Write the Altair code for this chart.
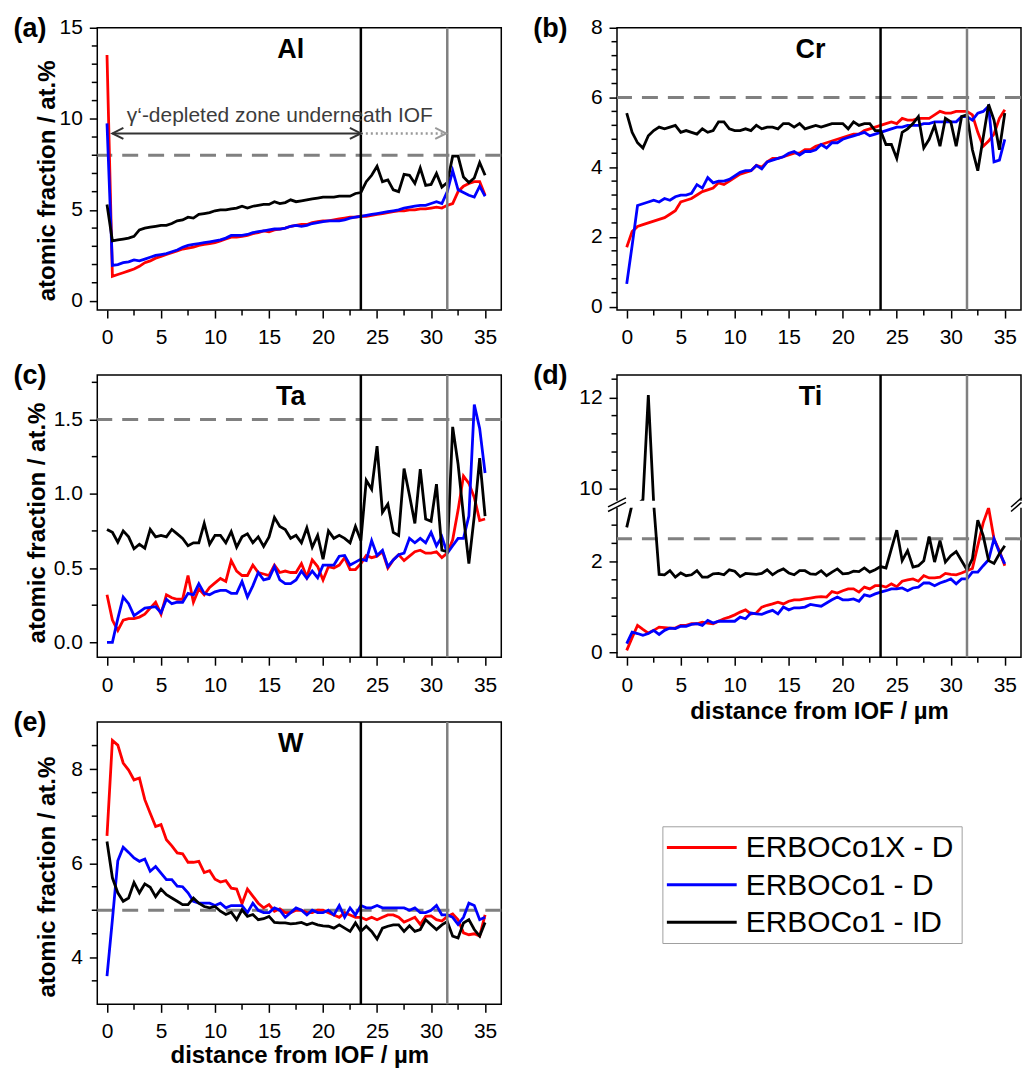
import altair as alt
import pandas as pd

FONT = "Liberation Sans"
W, H = 405, 283

DIST = [0, 0.5, 1, 1.5, 2, 2.5, 3, 3.5, 4, 4.5, 5, 5.5, 6, 6.5, 7, 7.5, 8, 8.5, 9, 9.5,
        10, 10.5, 11, 11.5, 12, 12.5, 13, 13.5, 14, 14.5, 15, 15.5, 16, 16.5, 17, 17.5, 18, 18.5, 19, 19.5,
        20, 20.5, 21, 21.5, 22, 22.5, 23, 23.5, 24, 24.5, 25, 25.5, 26, 26.5, 27, 27.5, 28, 28.5, 29, 29.5,
        30, 30.5, 31, 31.5, 32, 32.5, 33, 33.5, 34, 34.5, 35]

SERIES = ["ERBOCo1X - D", "ERBOCo1 - D", "ERBOCo1 - ID"]
COLORS = ["#ff0000", "#0000ff", "#000000"]

XDOM = [-0.9, 36.5]
XMAJOR = [0, 5, 10, 15, 20, 25, 30, 35]
XMINOR = [2.5, 7.5, 12.5, 17.5, 22.5, 27.5, 32.5]
XTITLE = "distance from IOF / µm"
YTITLE = "atomic fraction / at.%"
VLINE_BLACK = 23.5
VLINE_GRAY = 31.5

# ---------------- Al ----------------
AL_RED = [13.5, 1.35, 1.45, 1.55, 1.65, 1.75, 1.9, 2.1, 2.2, 2.35,
          2.45, 2.55, 2.65, 2.75, 2.85, 2.9, 2.95, 3.05, 3.1, 3.15,
          3.2, 3.3, 3.4, 3.5, 3.5, 3.55, 3.6, 3.7, 3.75, 3.85,
          3.8, 3.9, 3.95, 4.0, 4.1, 4.15, 4.2, 4.2, 4.3, 4.35,
          4.4, 4.4, 4.45, 4.5, 4.55, 4.6, 4.6, 4.65, 4.65, 4.7,
          4.75, 4.8, 4.85, 4.9, 4.95, 4.95, 5.0, 5.0, 5.05, 5.05,
          5.1, 5.15, 5.1, 5.25, 5.35, 6.0, 6.3, 6.45, 6.55, 6.55,
          5.8]
AL_BLUE = [9.75, 1.95, 2.0, 2.1, 2.15, 2.25, 2.2, 2.3, 2.4, 2.5,
           2.55, 2.6, 2.7, 2.8, 2.95, 3.05, 3.1, 3.15, 3.2, 3.25,
           3.3, 3.35, 3.45, 3.6, 3.6, 3.6, 3.65, 3.75, 3.8, 3.85,
           3.9, 3.95, 3.95, 4.0, 4.1, 4.15, 4.1, 4.15, 4.25, 4.3,
           4.35, 4.4, 4.4, 4.4, 4.45, 4.55, 4.6, 4.65, 4.7, 4.75,
           4.8, 4.85, 4.9, 4.95, 5.0, 5.1, 5.15, 5.2, 5.25, 5.25,
           5.35, 5.45, 5.35, 6.0, 7.15, 6.1, 5.95, 5.8, 5.7, 6.3,
           5.75]
AL_BLACK = [5.3, 3.3, 3.35, 3.4, 3.45, 3.55, 3.9, 4.0, 4.05, 4.1,
            4.15, 4.15, 4.25, 4.4, 4.45, 4.6, 4.55, 4.75, 4.8, 4.85,
            4.95, 5.0, 5.0, 5.05, 5.1, 5.2, 5.1, 5.2, 5.25, 5.3,
            5.3, 5.45, 5.35, 5.4, 5.55, 5.45, 5.5, 5.55, 5.6, 5.65,
            5.7, 5.7, 5.7, 5.75, 5.75, 5.75, 5.9, 5.95, 6.55, 6.9,
            7.4, 6.55, 6.65, 6.1, 6.0, 6.95, 6.9, 6.45, 7.3, 6.35,
            6.4, 7.0, 6.25, 6.5, 7.95, 7.95, 6.8, 6.5, 6.75, 7.6,
            6.9]

# ---------------- Cr ----------------
CR_RED = [1.7, 2.15, 2.3, 2.35, 2.4, 2.45, 2.5, 2.55, 2.65, 2.75,
          3.0, 3.05, 3.1, 3.2, 3.3, 3.35, 3.4, 3.55, 3.5, 3.6,
          3.7, 3.8, 3.85, 3.9, 4.05, 4.0, 4.15, 4.25, 4.25, 4.3,
          4.35, 4.4, 4.4, 4.5, 4.5, 4.6, 4.65, 4.7, 4.75, 4.8,
          4.85, 4.9, 4.95, 4.95, 5.05, 5.1, 5.15, 5.2, 5.25, 5.3,
          5.25, 5.4, 5.35, 5.35, 5.4, 5.4, 5.4, 5.5, 5.6, 5.55,
          5.55, 5.6, 5.6, 5.6, 5.5, 5.0, 4.6, 4.75, 4.95, 5.4,
          5.65]
CR_BLUE = [0.65, 1.75, 2.9, 2.95, 3.0, 3.05, 3.0, 3.1, 3.05, 3.15,
           3.2, 3.2, 3.25, 3.5, 3.4, 3.7, 3.55, 3.6, 3.6, 3.65,
           3.75, 3.85, 3.9, 3.9, 4.05, 3.95, 4.15, 4.2, 4.25, 4.3,
           4.4, 4.45, 4.35, 4.45, 4.45, 4.5, 4.65, 4.55, 4.7, 4.7,
           4.8, 4.85, 4.9, 4.95, 5.0, 4.9, 4.95, 5.0, 5.05, 5.1,
           5.15, 5.15, 5.2, 5.2, 5.2, 5.25, 5.25, 5.3, 5.3, 5.3,
           5.3, 5.3, 5.45, 5.45, 5.35, 5.55, 5.6, 5.75, 4.15, 4.2,
           4.8]
CR_BLACK = [5.55, 5.0, 4.7, 4.55, 4.9, 5.05, 5.15, 5.1, 5.15, 5.2,
            5.0, 5.05, 5.0, 4.95, 5.1, 5.0, 5.05, 5.3, 5.3, 5.1,
            5.05, 5.05, 5.1, 5.05, 5.2, 5.1, 5.15, 5.15, 5.1, 5.25,
            5.25, 5.15, 5.25, 5.1, 5.15, 5.2, 5.15, 5.2, 5.25, 5.25,
            5.25, 5.1, 5.3, 5.2, 5.25, 5.25, 5.05, 5.05, 4.65, 4.65,
            4.25, 5.0, 5.1, 5.25, 5.45, 4.55, 4.8, 5.2, 4.6, 5.4,
            5.3, 4.6, 5.45, 5.5, 4.5, 3.9, 4.85, 5.8, 5.35, 4.5,
            5.55]

# ---------------- Ta ----------------
TA_RED = [0.32, 0.15, 0.08, 0.15, 0.16, 0.16, 0.17, 0.19, 0.23, 0.27,
          0.19, 0.32, 0.3, 0.29, 0.29, 0.45, 0.27, 0.36, 0.32, 0.37,
          0.40, 0.43, 0.41, 0.55, 0.48, 0.45, 0.45, 0.52, 0.47, 0.46,
          0.45, 0.52, 0.47, 0.48, 0.47, 0.47, 0.53, 0.44, 0.555, 0.51,
          0.42, 0.51, 0.50, 0.52, 0.57, 0.49, 0.49, 0.53, 0.585, 0.57,
          0.58, 0.61, 0.50, 0.555, 0.59, 0.55, 0.58, 0.61, 0.62, 0.60,
          0.60, 0.61, 0.57, 0.60, 0.69, 0.89, 1.12, 1.07, 0.975, 0.82,
          0.83]
TA_BLUE = [0.0, 0.0, 0.16, 0.305, 0.26, 0.18, 0.205, 0.23, 0.235, 0.24,
           0.20, 0.29, 0.26, 0.27, 0.27, 0.33, 0.32, 0.395, 0.33, 0.32,
           0.34, 0.35, 0.35, 0.33, 0.33, 0.41, 0.305, 0.38, 0.47, 0.42,
           0.43, 0.51, 0.42, 0.395, 0.395, 0.42, 0.48, 0.43, 0.48, 0.435,
           0.52, 0.52, 0.52, 0.58, 0.585, 0.52, 0.54, 0.56, 0.55, 0.685,
           0.585, 0.62, 0.51, 0.555, 0.59, 0.60, 0.70, 0.67, 0.70, 0.67,
           0.74, 0.65, 0.71, 0.60, 0.65, 0.70, 0.70, 0.85, 1.60, 1.44,
           1.14]
TA_BLACK = [0.76, 0.74, 0.674, 0.75, 0.71, 0.63, 0.66, 0.634, 0.76, 0.71,
            0.72, 0.71, 0.76, 0.73, 0.70, 0.65, 0.67, 0.67, 0.80, 0.66,
            0.72, 0.72, 0.67, 0.745, 0.64, 0.71, 0.73, 0.67, 0.71, 0.645,
            0.71, 0.84, 0.78, 0.76, 0.70, 0.72, 0.67, 0.77, 0.64, 0.72,
            0.56, 0.75, 0.70, 0.72, 0.70, 0.67, 0.78, 0.685, 1.09, 1.03,
            1.32, 0.875, 0.93, 0.74, 0.72, 1.17, 0.99, 0.80, 1.165, 0.83,
            0.815, 1.065, 0.62, 0.61, 1.45, 1.2, 0.85, 0.53, 0.85, 1.24,
            0.85]

# ---------------- Ti (broken axis) ----------------
TI_RED = [0.05, 0.33, 0.6, 0.51, 0.43, 0.49, 0.56, 0.55, 0.54, 0.54,
          0.6, 0.6, 0.635, 0.635, 0.67, 0.65, 0.635, 0.69, 0.745, 0.78,
          0.83, 0.89, 0.94, 0.85, 0.87, 1.0, 1.04, 1.07, 1.11, 1.07,
          1.13, 1.16, 1.16, 1.18, 1.2, 1.22, 1.23, 1.22, 1.34, 1.31,
          1.36, 1.40, 1.40, 1.33, 1.44, 1.40, 1.47, 1.47, 1.44, 1.51,
          1.45, 1.57, 1.60, 1.62, 1.57, 1.69, 1.64, 1.64, 1.66, 1.74,
          1.72, 1.71, 1.75, 1.8, 1.85, 2.35, 2.85, 3.18, 2.5, 2.24,
          1.91]
TI_BLUE = [0.2, 0.45, 0.42, 0.38, 0.42, 0.49, 0.40, 0.49, 0.54, 0.53,
           0.58, 0.58, 0.62, 0.635, 0.60, 0.71, 0.65, 0.69, 0.69, 0.69,
           0.69, 0.78, 0.745, 0.87, 0.85, 0.84, 0.89, 0.93, 0.85, 1.0,
           0.94, 0.985, 0.985, 1.0, 1.06, 1.04, 1.02, 1.09, 1.16, 1.22,
           1.16, 1.16, 1.18, 1.13, 1.27, 1.24, 1.29, 1.33, 1.36, 1.40,
           1.40, 1.42, 1.36, 1.42, 1.44, 1.53, 1.53, 1.47, 1.53, 1.57,
           1.62, 1.51, 1.62, 1.62, 1.77, 1.77, 1.91, 2.04, 2.50, 2.2,
           1.95]
TI_BLACK = [2.75, 6.0, 8.0, 9.75, 12.05, 9.6, 1.72, 1.71, 1.80, 1.66,
            1.75, 1.69, 1.71, 1.80, 1.66, 1.66, 1.73, 1.74, 1.71, 1.82,
            1.79, 1.67, 1.74, 1.73, 1.72, 1.74, 1.82, 1.71, 1.79, 1.84,
            1.75, 1.71, 1.80, 1.80, 1.73, 1.72, 1.80, 1.69, 1.77, 1.84,
            1.73, 1.74, 1.79, 1.78, 1.86, 1.77, 1.82, 1.89, 1.86, 2.28,
            2.69, 2.02, 2.24, 1.88, 1.91, 2.02, 2.55, 1.99, 2.46, 1.99,
            2.13, 2.22, 2.02, 1.82, 2.06, 2.91, 2.57, 2.02, 1.96, 2.17,
            2.35]

# ---------------- W ----------------
W_RED = [6.58, 8.61, 8.51, 8.13, 7.98, 7.77, 7.81, 7.35, 7.06, 6.78,
         6.82, 6.50, 6.37, 6.22, 6.20, 6.02, 6.02, 6.04, 5.80, 5.84,
         5.66, 5.60, 5.63, 5.47, 5.45, 5.14, 5.45, 5.30, 5.15, 5.05,
         5.12, 4.98, 5.03, 4.95, 4.95, 5.0, 5.0, 4.95, 4.95, 5.0,
         5.0, 4.95, 4.9, 4.85, 4.95, 4.9, 4.85, 4.85, 4.8, 4.85,
         4.8, 4.85, 4.9, 4.9, 4.85, 4.75, 4.8, 4.85, 4.7, 4.87,
         4.88, 4.8, 4.77, 4.87, 4.92, 4.8, 4.52, 4.48, 4.5, 4.45,
         4.9]
W_BLUE = [3.6, 4.8, 6.05, 6.34, 6.23, 6.11, 6.04, 6.09, 5.83, 5.93,
          5.79, 5.65, 5.65, 5.51, 5.5, 5.37, 5.19, 5.15, 5.15, 5.15,
          5.10, 5.15, 5.05, 5.1, 5.1, 5.1, 4.95, 5.15, 5.0, 4.95,
          4.95, 5.05, 5.0, 4.85, 4.95, 5.05, 5.0, 4.9, 5.0, 4.95,
          4.95, 5.0, 4.9, 5.1, 4.85, 5.05, 4.9, 5.1, 5.05, 5.05,
          5.1, 5.05, 5.05, 5.05, 5.05, 5.05, 5.0, 5.05, 4.95, 4.95,
          5.0, 5.1, 4.9, 4.9, 4.85, 4.7, 4.85, 5.15, 5.1, 4.8,
          4.85]
W_BLACK = [6.46, 5.69, 5.37, 5.19, 5.26, 5.59, 5.37, 5.56, 5.49, 5.29,
           5.45, 5.33, 5.26, 5.19, 5.12, 5.12, 5.26, 5.15, 5.08, 5.05,
           5.08, 4.98, 4.91, 4.96, 4.80, 5.01, 4.87, 4.91, 4.80, 4.82,
           4.87, 4.74, 4.73, 4.73, 4.71, 4.72, 4.74, 4.69, 4.73, 4.69,
           4.67, 4.66, 4.62, 4.69, 4.62, 4.55, 4.73, 4.55, 4.66, 4.55,
           4.39, 4.62, 4.66, 4.69, 4.69, 4.55, 4.67, 4.55, 4.59, 4.80,
           4.69, 4.59, 4.69, 4.76, 4.45, 4.41, 4.73, 4.80, 4.59, 4.45,
           4.74]

# Ti broken-axis mapping (lower part up to 3.183, upper part from 9.73)
TI_LOW_TOP = 3.183
TI_HIGH_BOTTOM = 9.73
TI_OFFSET = 6.394
TI_GAP_MID = 3.26
TI_MAJOR = [0, 2, 10, 12]
TI_MINOR = [0.4, 0.8, 1.2, 1.6, 2.4, 2.8, 10.4, 10.8, 11.2, 11.6, 12.4]
TI_SLASH_LOW = [3.10, 3.20]
TI_SLASH_HIGH = [3.30, 3.40]

# annotation in (a)
ANNOT_TEXT = "γ‘-depleted zone underneath IOF"
ANNOT_X, ANNOT_Y = 16.0, 9.8
ARROW_Y = 9.2
ARROW_SOLID = [0.5, 23.5]
ARROW_DOTTED = [23.5, 31.4]
RIGHT_CHEVRON = "M-1,-0.5L0,0L-1,0.5"
LEFT_CHEVRON = "M1,-0.5L0,0L1,0.5"

# legend box (drawn as its own small panel)
LEG_BOX = [46, 346, 105, 222]
LEG_SYMBOL = [50, 120]
LEG_LABEL_X = 129
LEG_ROWS = [125.7, 200.7]

# page anchor (top-left extent of the whole figure, relative to panel (a))
ANCHOR = [-92, -30]

COLOR_SCALE = alt.Scale(domain=SERIES, range=COLORS)


def ti_t(v):
    if v <= TI_LOW_TOP:
        return v
    if v >= TI_HIGH_BOTTOM:
        return v - TI_OFFSET
    return TI_GAP_MID


TI_EXPR = (f"datum.v <= {TI_LOW_TOP} ? datum.v : (datum.v >= {TI_HIGH_BOTTOM} ? "
           f"datum.v - {TI_OFFSET} : {TI_GAP_MID})")


def build_panel(letter, element, vals, ydom, ymajor, yminor, ref_y,
                ytitle_pos=None, xtitle_y=None, xlabel_pad=9, broken=False, annotate=False,
                anchor=False):
    red, blue, black = vals
    n = len(DIST)
    df = pd.DataFrame({
        "x": DIST * 3,
        "v": red + blue + black,
        "series": [SERIES[0]] * n + [SERIES[1]] * n + [SERIES[2]] * n,
    })
    xs = alt.Scale(domain=XDOM, nice=False, zero=False)
    ys = alt.Scale(domain=ydom, nice=False, zero=False)

    xkw = dict(values=XMAJOR, tickSize=8, tickWidth=1.5, tickColor="black", domain=False,
               grid=False, labelFont=FONT, labelFontSize=21, labelColor="black",
               labelPadding=xlabel_pad, labelFlush=False)
    if xtitle_y is not None:
        xkw.update(title=XTITLE, titleFont=FONT, titleFontSize=24, titleFontWeight="bold",
                   titleColor="black", titleY=xtitle_y, titleBaseline="alphabetic")
    else:
        xkw.update(title=None)

    ykw = dict(values=ymajor, tickSize=8, tickWidth=1.5, tickColor="black", domain=False,
               grid=False, labelFont=FONT, labelFontSize=21, labelColor="black",
               labelPadding=7, labelFlush=False)
    if broken:
        ykw.update(labelExpr=f"datum.value > {TI_LOW_TOP} ? format(datum.value + {TI_OFFSET}, '.0f') : format(datum.value, '.0f')")
    if ytitle_pos is not None:
        ykw.update(title=YTITLE, titleFont=FONT, titleFontSize=24, titleFontWeight="bold",
                   titleColor="black", titleX=ytitle_pos[0], titleY=ytitle_pos[1],
                   titleBaseline="alphabetic", titleAngle=270)
    else:
        ykw.update(title=None)
    XA = alt.Axis(**xkw)
    YA = alt.Axis(**ykw)

    def X(field):
        return alt.X(field, scale=xs, axis=XA)

    def Y(field):
        return alt.Y(field, scale=ys, axis=YA)

    base = alt.Chart(df)
    if broken:
        base = base.transform_calculate(t=TI_EXPR)
        yf = "t:Q"
    else:
        yf = "v:Q"

    lines = base.mark_line(strokeWidth=2.8, clip=True).encode(
        x=X("x:Q"), y=Y(yf),
        color=alt.Color("series:N", scale=COLOR_SCALE, legend=None),
    )

    dashed = alt.Chart(pd.DataFrame({"y": [ref_y]})).mark_rule(
        color="#808080", strokeWidth=3, strokeDash=[16, 10]
    ).encode(y=Y("y:Q"))

    vblack = alt.Chart(pd.DataFrame({"x": [VLINE_BLACK]})).mark_rule(
        color="#000000", strokeWidth=2.5
    ).encode(x=X("x:Q"))
    vgray = alt.Chart(pd.DataFrame({"x": [VLINE_GRAY]})).mark_rule(
        color="#808080", strokeWidth=2.5
    ).encode(x=X("x:Q"))

    xmin = alt.Chart(pd.DataFrame({"x": XMINOR})).mark_rule(color="black", strokeWidth=1.5).encode(
        x=X("x:Q"), y=alt.value(H), y2=alt.value(H + 5.5))
    ymin = alt.Chart(pd.DataFrame({"y": yminor})).mark_rule(color="black", strokeWidth=1.5).encode(
        y=Y("y:Q"), x=alt.value(0), x2=alt.value(-5.5))

    letter_t = alt.Chart(pd.DataFrame({"t": [letter]})).mark_text(
        font=FONT, fontSize=27, fontWeight="bold", align="left", baseline="middle", color="black"
    ).encode(text="t:N", x=alt.value(-84), y=alt.value(1))
    elem_t = alt.Chart(pd.DataFrame({"t": [element]})).mark_text(
        font=FONT, fontSize=27, fontWeight="bold", align="center", baseline="alphabetic", color="black"
    ).encode(text="t:N", x=alt.value(194), y=alt.value(30))

    layers = [dashed, lines]
    if broken:
        band = alt.Chart(pd.DataFrame({"y1": [TI_LOW_TOP], "y2": [TI_HIGH_BOTTOM - TI_OFFSET]})).mark_rect(
            color="white"
        ).encode(y=Y("y1:Q"), y2="y2:Q", x=alt.value(-2), x2=alt.value(W + 1))
        layers.append(band)
    layers += [vblack, vgray, xmin, ymin, letter_t, elem_t]
    if broken:
        sl = pd.DataFrame({"y1": TI_SLASH_LOW, "y2": TI_SLASH_HIGH})
        for x1, x2 in ((-9, 9), (W - 10, W + 0.5)):
            layers.append(alt.Chart(sl).mark_rule(color="black", strokeWidth=1.5).encode(
                y=Y("y1:Q"), y2="y2:Q", x=alt.value(x1), x2=alt.value(x2)))
    if annotate:
        txt = alt.Chart(pd.DataFrame({"x": [ANNOT_X], "y": [ANNOT_Y], "t": [ANNOT_TEXT]})).mark_text(
            font=FONT, fontSize=21, color="#3c3c3c", align="center", baseline="alphabetic"
        ).encode(x=X("x:Q"), y=Y("y:Q"), text="t:N")
        solid = alt.Chart(pd.DataFrame({"x1": [ARROW_SOLID[0]], "x2": [ARROW_SOLID[1]], "y": [ARROW_Y]})).mark_rule(
            color="#333333", strokeWidth=2
        ).encode(x=X("x1:Q"), x2="x2:Q", y=Y("y:Q"))
        dotted = alt.Chart(pd.DataFrame({"x1": [ARROW_DOTTED[0]], "x2": [ARROW_DOTTED[1]], "y": [ARROW_Y]})).mark_rule(
            color="#999999", strokeWidth=2.5, strokeDash=[2, 3]
        ).encode(x=X("x1:Q"), x2="x2:Q", y=Y("y:Q"))
        head_l = alt.Chart(pd.DataFrame({"x": [ARROW_SOLID[0]], "y": [ARROW_Y]})).mark_point(
            shape=LEFT_CHEVRON, size=484, filled=False, strokeWidth=2, color="#333333", opacity=1
        ).encode(x=X("x:Q"), y=Y("y:Q"))
        head_r = alt.Chart(pd.DataFrame({"x": [ARROW_SOLID[1]], "y": [ARROW_Y]})).mark_point(
            shape=RIGHT_CHEVRON, size=484, filled=False, strokeWidth=2, color="#333333", opacity=1
        ).encode(x=X("x:Q"), y=Y("y:Q"))
        head_g = alt.Chart(pd.DataFrame({"x": [ARROW_DOTTED[1]], "y": [ARROW_Y]})).mark_point(
            shape=RIGHT_CHEVRON, size=484, filled=False, strokeWidth=2, color="#999999", opacity=1
        ).encode(x=X("x:Q"), y=Y("y:Q"))
        layers += [txt, solid, dotted, head_l, head_r, head_g]
    if anchor:
        layers.append(alt.Chart(pd.DataFrame({"a": [0]})).mark_rule(color="white", strokeWidth=1).encode(
            x=alt.value(ANCHOR[0]), x2=alt.value(ANCHOR[0]),
            y=alt.value(ANCHOR[1]), y2=alt.value(ANCHOR[1] + 4)))
    return alt.layer(*layers).properties(width=W, height=H)


def build_legend():
    ldf = pd.DataFrame({"series": SERIES})
    ly = alt.Scale(type="point", domain=SERIES, range=LEG_ROWS, padding=0)
    box = alt.Chart(pd.DataFrame({"a": [0]})).mark_rect(
        fill="white", stroke="#a0a0a0", strokeWidth=1
    ).encode(x=alt.value(LEG_BOX[0]), x2=alt.value(LEG_BOX[1]),
             y=alt.value(LEG_BOX[2]), y2=alt.value(LEG_BOX[3]))
    sym = alt.Chart(ldf).mark_rule(strokeWidth=3).encode(
        x=alt.value(LEG_SYMBOL[0]), x2=alt.value(LEG_SYMBOL[1]),
        y=alt.Y("series:N", scale=ly, axis=None),
        color=alt.Color("series:N", scale=COLOR_SCALE, legend=None))
    lab = alt.Chart(ldf).mark_text(font=FONT, fontSize=30, align="left", baseline="middle",
                                   color="black", dy=1).encode(
        x=alt.value(LEG_LABEL_X), y=alt.Y("series:N", scale=ly, axis=None), text="series:N")
    return alt.layer(box, sym, lab).properties(
        width=W, height=H, view=alt.ViewBackground(strokeOpacity=0))


pa = build_panel("(a)", "Al", (AL_RED, AL_BLUE, AL_BLACK), [-0.5, 15], [0, 5, 10, 15],
                 [1, 2, 3, 4, 6, 7, 8, 9, 11, 12, 13, 14], 8,
                 ytitle_pos=(-42.5, 153), annotate=True, anchor=True)
pb = build_panel("(b)", "Cr", (CR_RED, CR_BLUE, CR_BLACK), [-0.1, 8], [0, 2, 4, 6, 8],
                 [0.4, 0.8, 1.2, 1.6, 2.4, 2.8, 3.2, 3.6, 4.4, 4.8, 5.2, 5.6, 6.4, 6.8, 7.2, 7.6], 6)
pc = build_panel("(c)", "Ta", (TA_RED, TA_BLUE, TA_BLACK), [-0.1, 1.8], [0.0, 0.5, 1.0, 1.5],
                 [0.25, 0.75, 1.25, 1.75], 1.5, ytitle_pos=(-52.5, 148))
pd_ = build_panel("(d)", "Ti", (TI_RED, TI_BLUE, TI_BLACK), [-0.1, 6.1],
                  [ti_t(v) for v in TI_MAJOR], [ti_t(v) for v in TI_MINOR], 2.5,
                  xtitle_y=61, broken=True)
pe = build_panel("(e)", "W", (W_RED, W_BLUE, W_BLACK), [3, 9], [4, 6, 8],
                 [3.5, 4.5, 5, 5.5, 6.5, 7, 7.5, 8.5], 5, ytitle_pos=(-43, 155),
                 xtitle_y=58, xlabel_pad=8)
pf = build_legend()

# page origin of panel (a) = 8 + padding - (anchor - 0.5)
PAD_LEFT = 96 - 8 + ANCHOR[0] - 0.5
PAD_TOP = 25 - 8 + ANCHOR[1] - 0.5

chart = alt.concat(
    pa, pb, pc, pd_, pe, pf, columns=2, spacing={"row": 65, "column": 116}, bounds="flush",
    padding={"top": PAD_TOP, "left": PAD_LEFT, "right": -1, "bottom": -2}
).configure(font=FONT).configure_view(stroke="black", strokeWidth=1.5)

chart.save("out.html", embed_options={"renderer": "svg", "actions": False})
